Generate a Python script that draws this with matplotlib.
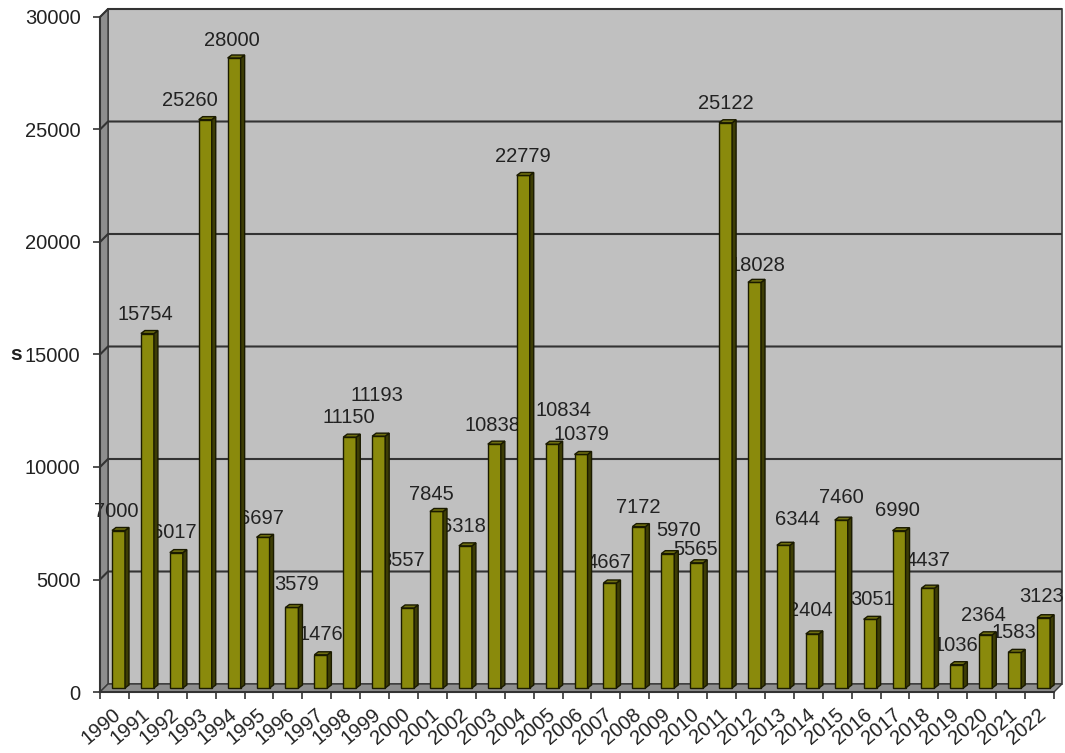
import matplotlib
matplotlib.use('Agg')
import matplotlib.pyplot as plt
from matplotlib.patches import Polygon, Rectangle

plt.rcParams['font.family'] = ['Liberation Sans', 'DejaVu Sans']

# Data
years = [str(y) for y in range(1990, 2023)]
values = [7000, 15754, 6017, 25260, 28000, 6697, 3579, 1476, 11150, 11193,
          3557, 7845, 6318, 10838, 22779, 10834, 10379, 4667, 7172, 5970,
          5565, 25122, 18028, 6344, 2404, 7460, 3051, 6990, 4437, 1036,
          2364, 1583, 3123]

# label nudges in pixels (dx right, dy up) from the top of each bar
label_nudge = [(-2, 19), (-2, 19), (-2, 20), (-15, 19), (-2, 17), (-2, 19),
               (5, 23), (0, 20), (-1, 20), (-2, 41), (-5, 47), (-5, 17),
               (-2, 19), (-2, 19), (0, 19), (11, 34), (0, 20), (-1, 20),
               (-1, 19), (11, 23), (-1, 13), (0, 19), (3, 17), (14, 26),
               (-2, 23), (0, 23), (2, 20), (-2, 20), (0, 28), (-1, 19),
               (-2, 19), (-1, 20), (-2, 21)]

W, H = 1065, 753
fig = plt.figure(figsize=(W / 100, H / 100), dpi=100)
fig.patch.set_facecolor('white')

# front plane of the chart in pixels
left_px, right_px, bot_px, top_px = 100, 1054, 692, 17
ax = fig.add_axes([left_px / W, (H - bot_px) / H,
                   (right_px - left_px) / W, (bot_px - top_px) / H])
n = len(values)
ymax = 30000
ax.set_xlim(0, n)
ax.set_ylim(0, ymax)
ax.patch.set_visible(False)

sx = n / (right_px - left_px)      # data units per pixel (x)
sy = ymax / (bot_px - top_px)      # data units per pixel (y)
DX, DY = 8 * sx, 8 * sy            # depth of the walls

wall_edge = '#3a3a3a'
# back wall
ax.add_patch(Rectangle((DX, DY), n, ymax, facecolor='#c0c0c0',
                       edgecolor=wall_edge, lw=1.2, zorder=0, clip_on=False))
# side wall
ax.add_patch(Polygon([(0, 0), (0, ymax), (DX, ymax + DY), (DX, DY)],
                     facecolor='#8e8e8e', edgecolor=wall_edge, lw=1.0,
                     zorder=0.5, clip_on=False))
# floor
ax.add_patch(Polygon([(0, 0), (n, 0), (n + DX, DY), (DX, DY)],
                     facecolor='#8e8e8e', edgecolor=wall_edge, lw=1.0,
                     zorder=0.5, clip_on=False))
# gridlines on the back wall
for v in range(5000, ymax + 1, 5000):
    ax.plot([0, DX, n + DX], [v, v + DY, v + DY], color='#333333', lw=1.5,
            zorder=1, clip_on=False, solid_capstyle='butt')

# bars (front face from the library, side/top faces from the same values)
bw = 0.45
x0 = [i + 0.415 for i in range(n)]
base = 4 * sy
ax.bar(x0, values, width=bw, bottom=base, align='edge', color='#8a8a0c',
       edgecolor='#1a1a00', linewidth=1.0, zorder=3)
ddx, ddy = 4 * sx, 3 * sy
for x, v in zip(x0, values):
    top = base + v
    ax.add_patch(Polygon([(x + bw, base), (x + bw, top),
                          (x + bw + ddx, top + ddy), (x + bw + ddx, base + ddy)],
                         facecolor='#3d3d05', edgecolor='#1a1a00', lw=1.0,
                         zorder=3, clip_on=False))
    ax.add_patch(Polygon([(x, top), (x + bw, top), (x + bw + ddx, top + ddy),
                          (x + ddx, top + ddy)],
                         facecolor='#6f6f10', edgecolor='#1a1a00', lw=1.0,
                         zorder=3, clip_on=False))

# value labels
for x, v, (ndx, ndy) in zip(x0, values, label_nudge):
    ax.annotate(str(v), xy=(x + bw / 2, base + v), xytext=(ndx, ndy),
                textcoords='offset pixels', ha='center', va='center',
                fontsize=14.5, color='#222222', zorder=2, annotation_clip=False)

# front axes
for s in ['top', 'right']:
    ax.spines[s].set_visible(False)
for s in ['left', 'bottom']:
    ax.spines[s].set_color('#333333')
    ax.spines[s].set_linewidth(1.5)
    ax.spines[s].set_zorder(4)

ax.set_yticks(range(0, ymax + 1, 5000))
ax.set_yticklabels([str(v) for v in range(0, ymax + 1, 5000)])
ax.tick_params(axis='y', length=5, width=1.2, color='#333333', pad=9,
               labelsize=14.5, labelcolor='#222222')
ax.set_xticks(range(0, n + 1))
ax.set_xticklabels([])
ax.tick_params(axis='x', length=5, width=1.2, color='#333333', direction='out')

for i, yr in enumerate(years):
    ax.annotate(yr, xy=(i + 0.5, 0), xytext=(4, -20), textcoords='offset pixels',
                ha='right', va='center', rotation=40, rotation_mode='anchor',
                fontsize=14.5, color='#222222', annotation_clip=False)

# cut-off axis title
fig.text(16 / W, 1 - 354 / H, 's', ha='center', va='center', fontsize=15,
         fontweight='bold', color='#222222')

fig.savefig('out.png', dpi=100)
